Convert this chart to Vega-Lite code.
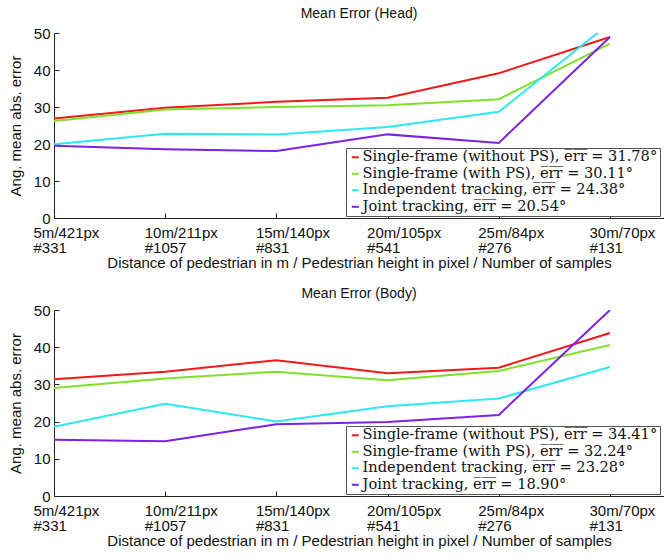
{
  "$schema": "https://vega.github.io/schema/vega-lite/v6.json",
  "padding": {"left": 8, "top": 7, "right": 0, "bottom": 2},
  "background": "white",
  "config": {
    "font": "Liberation Sans",
    "view": {"stroke": null},
    "axis": {"grid": false, "domainColor": "#222", "tickColor": "#222", "labelColor": "#111", "titleColor": "#111", "labelFont": "Liberation Sans", "titleFont": "Liberation Sans", "titleFontWeight": "normal", "labelFontSize": 15, "titleFontSize": 15},
    "title": {"font": "Liberation Sans", "fontSize": 14, "fontWeight": "normal", "color": "#111"},
    "concat": {"spacing": 92}
  },
  "datasets": {
    "head": [
      {"x": 0, "s": "Single-frame (without PS), e̅r̅r̅ = 31.78°", "v": 26.9},
      {"x": 1, "s": "Single-frame (without PS), e̅r̅r̅ = 31.78°", "v": 29.8},
      {"x": 2, "s": "Single-frame (without PS), e̅r̅r̅ = 31.78°", "v": 31.4},
      {"x": 3, "s": "Single-frame (without PS), e̅r̅r̅ = 31.78°", "v": 32.5},
      {"x": 4, "s": "Single-frame (without PS), e̅r̅r̅ = 31.78°", "v": 39.1},
      {"x": 5, "s": "Single-frame (without PS), e̅r̅r̅ = 31.78°", "v": 48.9},
      {"x": 0, "s": "Single-frame (with PS), e̅r̅r̅ = 30.11°", "v": 26.2},
      {"x": 1, "s": "Single-frame (with PS), e̅r̅r̅ = 30.11°", "v": 29.3},
      {"x": 2, "s": "Single-frame (with PS), e̅r̅r̅ = 30.11°", "v": 30.0},
      {"x": 3, "s": "Single-frame (with PS), e̅r̅r̅ = 30.11°", "v": 30.5},
      {"x": 4, "s": "Single-frame (with PS), e̅r̅r̅ = 30.11°", "v": 32.1},
      {"x": 5, "s": "Single-frame (with PS), e̅r̅r̅ = 30.11°", "v": 47.1},
      {"x": 0, "s": "Independent tracking, e̅r̅r̅ = 24.38°", "v": 19.9},
      {"x": 1, "s": "Independent tracking, e̅r̅r̅ = 24.38°", "v": 22.8},
      {"x": 2, "s": "Independent tracking, e̅r̅r̅ = 24.38°", "v": 22.6},
      {"x": 3, "s": "Independent tracking, e̅r̅r̅ = 24.38°", "v": 24.6},
      {"x": 4, "s": "Independent tracking, e̅r̅r̅ = 24.38°", "v": 28.7},
      {"x": 5, "s": "Independent tracking, e̅r̅r̅ = 24.38°", "v": 52.7},
      {"x": 0, "s": "Joint tracking, e̅r̅r̅ = 20.54°", "v": 19.5},
      {"x": 1, "s": "Joint tracking, e̅r̅r̅ = 20.54°", "v": 18.6},
      {"x": 2, "s": "Joint tracking, e̅r̅r̅ = 20.54°", "v": 18.1},
      {"x": 3, "s": "Joint tracking, e̅r̅r̅ = 20.54°", "v": 22.6},
      {"x": 4, "s": "Joint tracking, e̅r̅r̅ = 20.54°", "v": 20.3},
      {"x": 5, "s": "Joint tracking, e̅r̅r̅ = 20.54°", "v": 48.9}
    ],
    "body": [
      {"x": 0, "s": "Single-frame (without PS), e̅r̅r̅ = 34.41°", "v": 31.4},
      {"x": 1, "s": "Single-frame (without PS), e̅r̅r̅ = 34.41°", "v": 33.4},
      {"x": 2, "s": "Single-frame (without PS), e̅r̅r̅ = 34.41°", "v": 36.5},
      {"x": 3, "s": "Single-frame (without PS), e̅r̅r̅ = 34.41°", "v": 33.0},
      {"x": 4, "s": "Single-frame (without PS), e̅r̅r̅ = 34.41°", "v": 34.5},
      {"x": 5, "s": "Single-frame (without PS), e̅r̅r̅ = 34.41°", "v": 43.8},
      {"x": 0, "s": "Single-frame (with PS), e̅r̅r̅ = 32.24°", "v": 29.0},
      {"x": 1, "s": "Single-frame (with PS), e̅r̅r̅ = 32.24°", "v": 31.6},
      {"x": 2, "s": "Single-frame (with PS), e̅r̅r̅ = 32.24°", "v": 33.4},
      {"x": 3, "s": "Single-frame (with PS), e̅r̅r̅ = 32.24°", "v": 31.1},
      {"x": 4, "s": "Single-frame (with PS), e̅r̅r̅ = 32.24°", "v": 33.6},
      {"x": 5, "s": "Single-frame (with PS), e̅r̅r̅ = 32.24°", "v": 40.6},
      {"x": 0, "s": "Independent tracking, e̅r̅r̅ = 23.28°", "v": 18.6},
      {"x": 1, "s": "Independent tracking, e̅r̅r̅ = 23.28°", "v": 24.8},
      {"x": 2, "s": "Independent tracking, e̅r̅r̅ = 23.28°", "v": 20.0},
      {"x": 3, "s": "Independent tracking, e̅r̅r̅ = 23.28°", "v": 24.1},
      {"x": 4, "s": "Independent tracking, e̅r̅r̅ = 23.28°", "v": 26.2},
      {"x": 5, "s": "Independent tracking, e̅r̅r̅ = 23.28°", "v": 34.7},
      {"x": 0, "s": "Joint tracking, e̅r̅r̅ = 18.90°", "v": 15.1},
      {"x": 1, "s": "Joint tracking, e̅r̅r̅ = 18.90°", "v": 14.7},
      {"x": 2, "s": "Joint tracking, e̅r̅r̅ = 18.90°", "v": 19.3},
      {"x": 3, "s": "Joint tracking, e̅r̅r̅ = 18.90°", "v": 19.9},
      {"x": 4, "s": "Joint tracking, e̅r̅r̅ = 18.90°", "v": 21.8},
      {"x": 5, "s": "Joint tracking, e̅r̅r̅ = 18.90°", "v": 50.0}
    ]
  },
  "bounds": "flush",
  "vconcat": [
    {
      "width": 610,
      "height": 185,
      "title": {"text": "Mean Error (Head)", "offset": 5},
      "data": {"name": "head"},
      "mark": {"type": "line", "strokeWidth": 2, "clip": true},
      "encoding": {
        "x": {"field": "x", "type": "quantitative", "scale": {"domain": [0, 5.486], "nice": false, "zero": false},
          "axis": {"title": "Distance of pedestrian in m / Pedestrian height in pixel / Number of samples", "values": [0, 1, 2, 3, 4, 5], "labelExpr": "[['5m/421px','10m/211px','15m/140px','20m/105px','25m/84px','30m/70px'][datum.value], ['#331','#1057','#831','#541','#276','#131'][datum.value]]", "labelAlign": "left", "labelOffset": -21, "labelBaseline": "top", "labelLineHeight": 15, "labelFlush": false, "labelOverlap": false, "tickSize": -5, "labelPadding": 12, "titlePadding": 0}},
        "y": {"field": "v", "type": "quantitative", "scale": {"domain": [0, 50], "nice": false},
          "axis": {"title": "Ang. mean abs. error", "values": [0, 10, 20, 30, 40, 50], "tickSize": -5, "labelPadding": 9, "titlePadding": 10}},
        "color": {"field": "s", "type": "nominal",
          "scale": {"domain": ["Single-frame (without PS), e̅r̅r̅ = 31.78°", "Single-frame (with PS), e̅r̅r̅ = 30.11°", "Independent tracking, e̅r̅r̅ = 24.38°", "Joint tracking, e̅r̅r̅ = 20.54°"], "range": ["#f01818", "#7fe02a", "#2ee8f0", "#7b22e6"]},
          "legend": {"title": null, "orient": "none", "legendX": 292, "legendY": 115, "strokeColor": "#555", "fillColor": "white", "padding": 2, "labelFont": "DejaVu Serif", "labelFontSize": 14.6, "labelColor": "#111", "symbolType": "stroke", "symbolStrokeWidth": 2, "symbolSize": 49, "rowPadding": 1.5, "labelOffset": 0, "labelLimit": 400}}
      }
    },
    {
      "width": 610,
      "height": 186,
      "title": {"text": "Mean Error (Body)", "offset": 2},
      "data": {"name": "body"},
      "mark": {"type": "line", "strokeWidth": 2, "clip": true},
      "encoding": {
        "x": {"field": "x", "type": "quantitative", "scale": {"domain": [0, 5.486], "nice": false, "zero": false},
          "axis": {"title": "Distance of pedestrian in m / Pedestrian height in pixel / Number of samples", "values": [0, 1, 2, 3, 4, 5], "labelExpr": "[['5m/421px','10m/211px','15m/140px','20m/105px','25m/84px','30m/70px'][datum.value], ['#331','#1057','#831','#541','#276','#131'][datum.value]]", "labelAlign": "left", "labelOffset": -21, "labelBaseline": "top", "labelLineHeight": 15, "labelFlush": false, "labelOverlap": false, "tickSize": -5, "labelPadding": 12, "titlePadding": 0}},
        "y": {"field": "v", "type": "quantitative", "scale": {"domain": [0, 50], "nice": false},
          "axis": {"title": "Ang. mean abs. error", "values": [0, 10, 20, 30, 40, 50], "tickSize": -5, "labelPadding": 9, "titlePadding": 10}},
        "color": {"field": "s", "type": "nominal",
          "scale": {"domain": ["Single-frame (without PS), e̅r̅r̅ = 34.41°", "Single-frame (with PS), e̅r̅r̅ = 32.24°", "Independent tracking, e̅r̅r̅ = 23.28°", "Joint tracking, e̅r̅r̅ = 18.90°"], "range": ["#f01818", "#7fe02a", "#2ee8f0", "#7b22e6"]},
          "legend": {"title": null, "orient": "none", "legendX": 292, "legendY": 116, "strokeColor": "#555", "fillColor": "white", "padding": 2, "labelFont": "DejaVu Serif", "labelFontSize": 14.6, "labelColor": "#111", "symbolType": "stroke", "symbolStrokeWidth": 2, "symbolSize": 49, "rowPadding": 1.5, "labelOffset": 0, "labelLimit": 400}}
      }
    }
  ],
  "resolve": {"scale": {"color": "independent"}, "legend": {"color": "independent"}}
}
